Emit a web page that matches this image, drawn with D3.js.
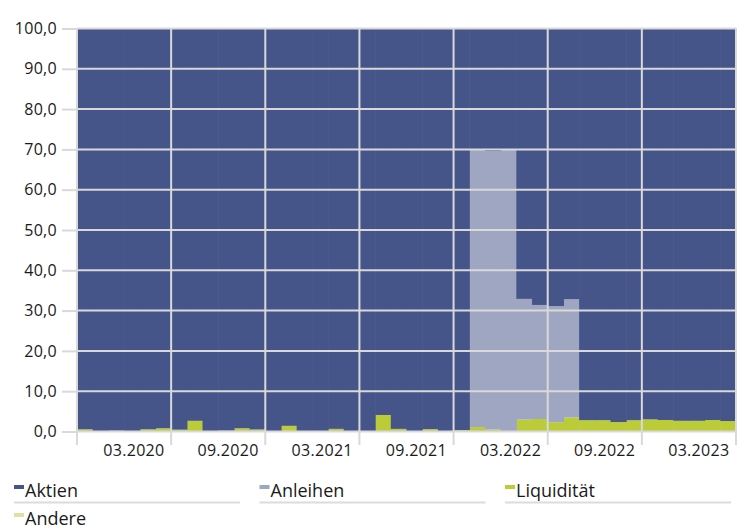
<!DOCTYPE html>
<html>
<head>
<meta charset="utf-8">
<script src="https://cdn.jsdelivr.net/npm/d3@7"></script>
<style>
  body { margin: 0; background: #fff; }
  text { font-family: "Open Sans", sans-serif; fill: #1a1a1a; }
</style>
</head>
<body>
<div id="chart"></div>
<script>
// monthly categories
const months = ["12.2019",
  "01.2020","02.2020","03.2020","04.2020","05.2020","06.2020","07.2020","08.2020","09.2020","10.2020","11.2020","12.2020",
  "01.2021","02.2021","03.2021","04.2021","05.2021","06.2021","07.2021","08.2021","09.2021","10.2021","11.2021","12.2021",
  "01.2022","02.2022","03.2022","04.2022","05.2022","06.2022","07.2022","08.2022","09.2022","10.2022","11.2022","12.2022",
  "01.2023","02.2023","03.2023","04.2023","05.2023"];

const xTickLabels = ["03.2020","09.2020","03.2021","09.2021","03.2022","09.2022","03.2023"];
const yTicks = [0,10,20,30,40,50,60,70,80,90,100];

const aktien = [99.45,100,99.8,100,99.45,99.2,99.55,97.35,100,99.8,99.2,99.5,100,98.6,100,100,99.35,100,100,95.9,99.35,100,99.4,100,99.65,
  30.0,30.4,30.0,67.1,68.6,68.9,67.2,97.2,97.2,97.65,97.2,97.0,97.15,97.35,97.35,97.15,97.4];
const anleihen = [0,0,0.2,0,0,0,0,0,0,0.2,0,0,0,0,0,0,0,0,0,0,0,0,0,0,0,
  68.9,69.1,70.0,29.95,28.3,28.8,29.3,0,0,0,0,0,0,0,0,0,0];
const liquiditaet = [0.55,0,0,0,0.55,0.8,0.45,2.65,0,0,0.8,0.5,0,1.4,0,0,0.65,0,0,4.1,0.65,0,0.6,0,0.35,
  1.1,0.5,0,2.95,3.1,2.3,3.5,2.8,2.8,2.35,2.8,3.0,2.85,2.65,2.65,2.85,2.6];
const andere = [0,0,0,0,0,0,0,0,0,0,0,0,0,0,0,0,0,0,0,0,0,0,0,0,0,0,0,0,0,0,0,0,0,0,0,0,0,0,0,0,0,0];

const seriesNames = ["Aktien","Anleihen","Liquidität","Andere"];
const seriesColors = ["#45558a","#9ea6c1","#bbcc38","#d9e4a4"];

const width = 744, height = 529;
const plotLeft = 77, plotRight = 736, plotTop = 28.5, plotBottom = 431.5;

let svg = d3.select("#chart").append("svg")
    .attr("width", width)
    .attr("height", height);

let x = d3.scaleBand().domain(months).range([plotLeft, plotRight]).padding(0);
let y = d3.scaleLinear().domain([0, 100]).range([plotBottom, plotTop]);
let color = d3.scaleOrdinal().domain(seriesNames).range(seriesColors);

// rows for the stack, bottom to top: Andere, Liquidität, Anleihen, Aktien
let rows = months.map((m, i) => ({
  month: m,
  "Aktien": aktien[i],
  "Anleihen": anleihen[i],
  "Liquidität": liquiditaet[i],
  "Andere": andere[i]
}));
let stacked = d3.stack().keys(["Andere","Liquidität","Anleihen","Aktien"])(rows);

let layers = svg.append("g").selectAll("g")
    .data(stacked)
    .enter().append("g")
    .attr("fill", d => color(d.key));

layers.selectAll("rect")
    .data(d => d.filter(p => p[1] - p[0] > 0))
    .enter().append("rect")
    .attr("x", d => x(d.data.month))
    .attr("width", x.bandwidth() + 0.6)
    .attr("y", d => y(d[1]))
    .attr("height", d => y(d[0]) - y(d[1]));

// grid
let grid = svg.append("g").attr("stroke", "#d9d9d9").attr("stroke-width", 2);
grid.selectAll("line.h")
    .data(yTicks)
    .enter().append("line")
    .attr("x1", plotLeft).attr("x2", plotRight)
    .attr("y1", d => y(d)).attr("y2", d => y(d));

let vIdx = months.filter((m, i) => i % 6 === 0);
grid.selectAll("line.v")
    .data(vIdx)
    .enter().append("line")
    .attr("x1", d => x(d)).attr("x2", d => x(d))
    .attr("y1", plotTop).attr("y2", 445);
grid.append("line")
    .attr("x1", plotRight).attr("x2", plotRight)
    .attr("y1", plotTop).attr("y2", 445);

// y axis
let de = d3.formatLocale({decimal: ",", thousands: ".", grouping: [3], currency: ["", " €"]});
let yAxis = svg.append("g")
    .attr("transform", `translate(${plotLeft},0)`)
    .call(d3.axisLeft(y).tickValues(yTicks).tickSize(15).tickPadding(5).tickFormat(de.format(".1f")));
yAxis.select(".domain").remove();
yAxis.selectAll(".tick line").attr("stroke", "#d9d9d9").attr("stroke-width", 2);
yAxis.selectAll("text").attr("font-size", 16).attr("letter-spacing", 0.3).attr("font-family", null).attr("fill", "#1a1a1a");

// x axis
let xAxis = svg.append("g")
    .attr("transform", `translate(0,${plotBottom})`)
    .call(d3.axisBottom(x).tickValues(xTickLabels).tickSize(0).tickPadding(13));
xAxis.select(".domain").remove();
xAxis.selectAll("text").attr("font-size", 16).attr("letter-spacing", 0.3).attr("dx", 2).attr("font-family", null).attr("fill", "#1a1a1a");

// legend
let legend = svg.append("g").selectAll("g")
    .data(seriesNames)
    .enter().append("g")
    .attr("transform", (d, i) => `translate(${14 + (i % 3) * 245.5},${i < 3 ? 497 : 525})`);

legend.append("rect")
    .attr("x", 0).attr("y", -12)
    .attr("width", 10).attr("height", 4)
    .attr("fill", d => color(d));

legend.append("text")
    .attr("x", 11)
    .attr("y", 0)
    .attr("font-size", 18)
    .text(d => d);

legend.filter((d, i) => i < 3).append("line")
    .attr("x1", 0).attr("x2", 226)
    .attr("y1", 5.5).attr("y2", 5.5)
    .attr("stroke", "#dcdcdc")
    .attr("stroke-width", 2);
</script>
</body>
</html>
